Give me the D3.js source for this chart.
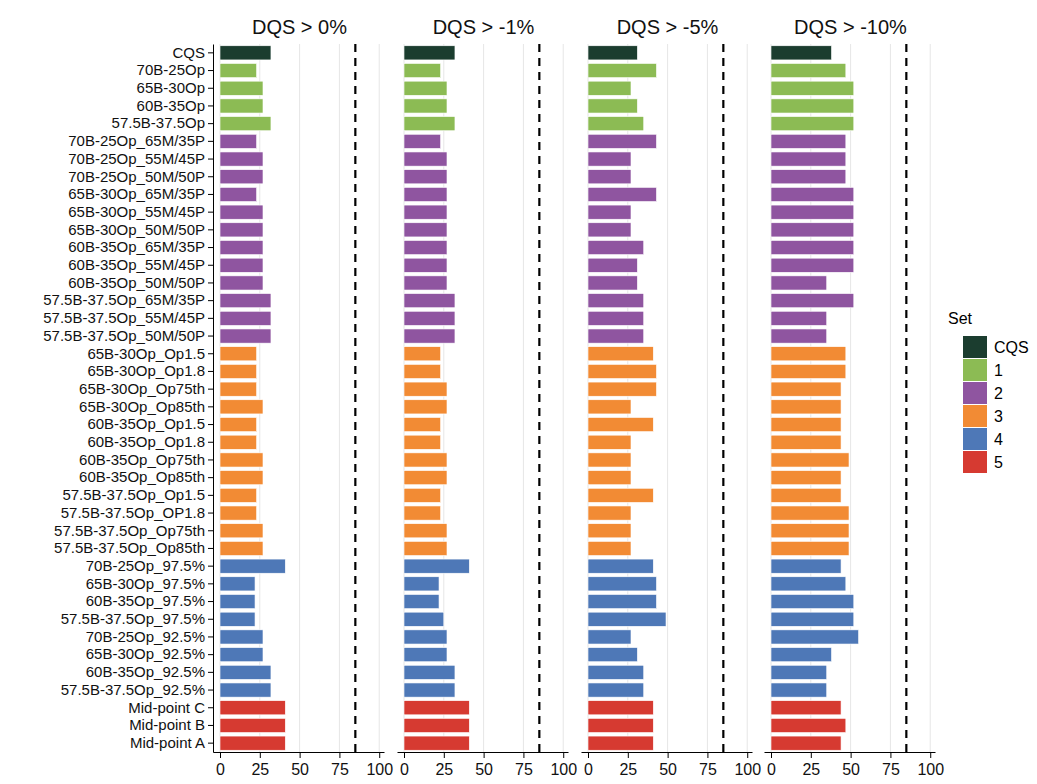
<!DOCTYPE html><html><head><meta charset="utf-8"><script src="https://cdn.jsdelivr.net/npm/d3@7"></script>
<style>body{margin:0;background:#fff}text{font-family:"Liberation Sans",Arial,sans-serif}</style></head><body><svg id="c" width="1037" height="784"></svg><script>
const categories=["CQS","70B-25Op","65B-30Op","60B-35Op","57.5B-37.5Op","70B-25Op_65M/35P","70B-25Op_55M/45P","70B-25Op_50M/50P","65B-30Op_65M/35P","65B-30Op_55M/45P","65B-30Op_50M/50P","60B-35Op_65M/35P","60B-35Op_55M/45P","60B-35Op_50M/50P","57.5B-37.5Op_65M/35P","57.5B-37.5Op_55M/45P","57.5B-37.5Op_50M/50P","65B-30Op_Op1.5","65B-30Op_Op1.8","65B-30Op_Op75th","65B-30Op_Op85th","60B-35Op_Op1.5","60B-35Op_Op1.8","60B-35Op_Op75th","60B-35Op_Op85th","57.5B-37.5Op_Op1.5","57.5B-37.5Op_OP1.8","57.5B-37.5Op_Op75th","57.5B-37.5Op_Op85th","70B-25Op_97.5%","65B-30Op_97.5%","60B-35Op_97.5%","57.5B-37.5Op_97.5%","70B-25Op_92.5%","65B-30Op_92.5%","60B-35Op_92.5%","57.5B-37.5Op_92.5%","Mid-point C","Mid-point B","Mid-point A"];
const sets=["CQS","1","1","1","1","2","2","2","2","2","2","2","2","2","2","2","2","3","3","3","3","3","3","3","3","3","3","3","3","4","4","4","4","4","4","4","4","5","5","5"];
const panels=["DQS > 0%","DQS > -1%","DQS > -5%","DQS > -10%"];
const v0=[32,23,27,27,32, 23,27,27,23,27,27,27,27,27,32,32,32, 23,23,23,27,23,23,27,27,23,23,27,27, 41,22,22,22,27,27,32,32, 41,41,41];
const v1=[32,23,27,27,32, 23,27,27,27,27,27,27,27,27,32,32,32, 23,23,27,27,23,23,27,27,23,23,27,27, 41,22,22,25,27,27,32,32, 41,41,41];
const v5=[31,43,27,31,35, 43,27,27,43,27,27,35,31,31,35,35,35, 41,43,43,27,41,27,27,27,41,27,27,27, 41,43,43,49,27,31,35,35, 41,41,41];
const v10=[38,47,52,52,52, 47,47,47,52,52,52,52,52,35,52,35,35, 47,47,44,44,44,44,49,44,44,49,49,49, 44,47,52,52,55,38,35,35, 44,47,44];
const values=[v0,v1,v5,v10];
const threshold=85;
const xTicks=[0,25,50,75,100];
const setNames=["CQS","1","2","3","4","5"];
const setColors=["#1b3d2f","#8cbb54","#8f55a0","#f28b34","#4e78b7","#d63a31"];
const color=d3.scaleOrdinal(setNames,setColors);
const svg=d3.select("#c");
const yTop=44,yBot=752;
const y=d3.scaleBand(categories,[yTop,yBot]).paddingInner(0.2).paddingOuter(0.1);
const px=[213,397,581,764],pw=171;
panels.forEach((p,i)=>{
 const x=d3.scaleLinear([-4.4,103],[px[i],px[i]+pw]);
 const g=svg.append("g");
 g.selectAll(".gl").data(xTicks).join("line").attr("x1",d=>x(d)).attr("x2",d=>x(d)).attr("y1",yTop).attr("y2",yBot).attr("stroke","#e6e6e6");
 g.selectAll("rect").data(values[i]).join("rect").attr("x",x(0)).attr("y",(d,j)=>y(categories[j])).attr("width",d=>x(d)-x(0)).attr("height",y.bandwidth()).attr("fill",(d,j)=>color(sets[j])).attr("stroke","#fff").attr("stroke-width",0.6);
 g.append("line").attr("x1",x(threshold)).attr("x2",x(threshold)).attr("y1",yTop).attr("y2",yBot).attr("stroke","#000").attr("stroke-width",2.2).attr("stroke-dasharray","8,6");
 const ax=g.append("g").attr("transform",`translate(0,${yBot})`).call(d3.axisBottom(x).tickValues(xTicks).tickSize(6).tickSizeOuter(0));
 ax.select(".domain").attr("stroke","#000").attr("stroke-width",1.2);
 ax.selectAll("text").attr("font-size",16).attr("fill","#111").attr("dy","0.85em");
 g.append("text").attr("x",px[i]+pw/2+1).attr("y",34).attr("text-anchor","middle").attr("font-size",20).attr("fill","#111").text(p);
});
const ya=svg.append("g").attr("transform",`translate(${px[0]},0)`).call(d3.axisLeft(y).tickSize(5).tickSizeOuter(0));
ya.select(".domain").attr("stroke","#000");
ya.selectAll("text").attr("font-size",15).attr("fill","#111");
const lg=svg.append("g").attr("transform","translate(948,0)");
lg.append("text").attr("x",0).attr("y",324).attr("font-size",16).text("Set");
setNames.forEach((s,i)=>{
 lg.append("rect").attr("x",15).attr("y",336+i*23).attr("width",24).attr("height",22).attr("fill",setColors[i]);
 lg.append("text").attr("x",46).attr("y",353+i*23).attr("font-size",16).text(s);
});
</script></body></html>
